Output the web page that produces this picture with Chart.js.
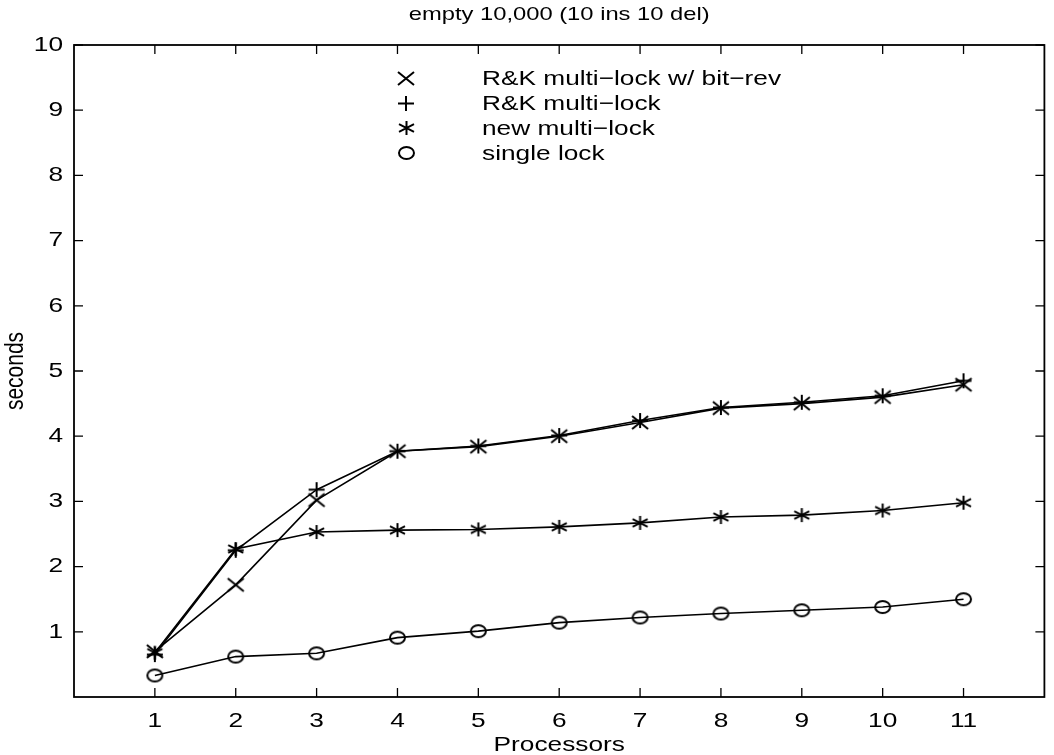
<!DOCTYPE html>
<html>
<head>
<meta charset="utf-8">
<script src="https://cdn.jsdelivr.net/npm/chart.js@4/dist/chart.umd.min.js"></script>
<style>
  html, body { margin: 0; padding: 0; background: #fff; }
  #wrap { width: 1054px; height: 755px; }
</style>
</head>
<body>
<div id="wrap"><canvas id="myChart" width="1054" height="755"></canvas></div>
<script>
// values
var processors = [1, 2, 3, 4, 5, 6, 7, 8, 9, 10, 11];
var rkBitRev   = [0.70, 1.72, 3.02, 3.77, 3.84, 4.00, 4.21, 4.43, 4.50, 4.60, 4.79];
var rkMulti    = [0.65, 2.25, 3.18, 3.77, 3.85, 4.01, 4.24, 4.44, 4.52, 4.62, 4.85];
var newMulti   = [0.68, 2.27, 2.53, 2.56, 2.57, 2.61, 2.67, 2.76, 2.79, 2.86, 2.98];
var singleLock = [0.33, 0.62, 0.67, 0.91, 1.01, 1.14, 1.22, 1.28, 1.33, 1.38, 1.50];
var xTicks = [1, 2, 3, 4, 5, 6, 7, 8, 9, 10, 11];
var yTicks = [1, 2, 3, 4, 5, 6, 7, 8, 9, 10];
var labels = ['R&K multi\u2212lock w/ bit\u2212rev', 'R&K multi\u2212lock', 'new multi\u2212lock', 'single lock'];
var titleText = 'empty 10,000 (10 ins 10 del)';

var FONT = '"Liberation Sans", Arial, Helvetica, sans-serif';
var FSIZE = 21;
var STRETCH = 1.25;   // the scan is wider than it is tall

// markers as little canvases, a bit wider than tall like the scan
function marker(kind, w, h) {
    var c = document.createElement('canvas');
    c.width = Math.ceil(w + 4); c.height = Math.ceil(h + 4);
    var g = c.getContext('2d');
    var mx = c.width / 2, my = c.height / 2, rx = w / 2, ry = h / 2;
    g.strokeStyle = '#000';
    g.lineWidth = 2;
    g.beginPath();
    if (kind == 'x') {
        g.moveTo(mx - rx, my - ry); g.lineTo(mx + rx, my + ry);
        g.moveTo(mx - rx, my + ry); g.lineTo(mx + rx, my - ry);
    } else if (kind == '+') {
        g.moveTo(mx - rx, my); g.lineTo(mx + rx, my);
        g.moveTo(mx, my - ry); g.lineTo(mx, my + ry);
    } else if (kind == '*') {
        g.moveTo(mx, my - ry); g.lineTo(mx, my + ry);
        g.moveTo(mx - rx, my - ry * 0.55); g.lineTo(mx + rx, my + ry * 0.55);
        g.moveTo(mx - rx, my + ry * 0.55); g.lineTo(mx + rx, my - ry * 0.55);
    } else {
        g.ellipse(mx, my, rx, ry, 0, 0, Math.PI * 2);
    }
    g.stroke();
    return c;
}
var markX = marker('x', 16, 13);
var markPlus = marker('+', 16, 15);
var markStar = marker('*', 15, 14);
var markO = marker('o', 15, 12);

function pts(arr) {
    return arr.map(function (v, i) { return { x: processors[i], y: v }; });
}

function series(label, arr, style) {
    return {
        label: label,
        data: pts(arr),
        borderColor: '#000',
        backgroundColor: 'rgba(0,0,0,0)',
        borderWidth: 1.6,
        pointStyle: style,
        pointRadius: 8,
        tension: 0
    };
}

function txt(c, s, x, y, align) {
    c.save();
    c.translate(x, y);
    c.scale(STRETCH, 1);
    c.textAlign = align || 'center';
    c.fillText(s, 0, 0);
    c.restore();
}

// frame, inward ticks on all sides, text and the legend inside the plot
var matlabFrame = {
    id: 'matlabFrame',
    afterDraw: function (chart) {
        var c = chart.ctx, a = chart.chartArea;
        var xs = chart.scales.x, ys = chart.scales.y;
        var t = 9;
        c.save();
        c.strokeStyle = '#000';
        c.lineWidth = 1.8;
        c.strokeRect(a.left, a.top, a.right - a.left, a.bottom - a.top);
        c.lineWidth = 1.3;
        c.beginPath();
        xs.ticks.forEach(function (tk) {
            var px = xs.getPixelForValue(tk.value);
            c.moveTo(px, a.bottom); c.lineTo(px, a.bottom - t);
            c.moveTo(px, a.top); c.lineTo(px, a.top + t);
        });
        ys.ticks.forEach(function (tk) {
            var py = ys.getPixelForValue(tk.value);
            c.moveTo(a.left, py); c.lineTo(a.left + t, py);
            c.moveTo(a.right, py); c.lineTo(a.right - t, py);
        });
        c.stroke();

        c.fillStyle = '#000';
        c.font = FSIZE + 'px ' + FONT;
        c.textBaseline = 'middle';
        xs.ticks.forEach(function (tk) {
            txt(c, String(tk.value), xs.getPixelForValue(tk.value), a.bottom + 24, 'center');
        });
        ys.ticks.forEach(function (tk) {
            txt(c, String(tk.value), a.left - 11, ys.getPixelForValue(tk.value), 'right');
        });
        txt(c, 'Processors', (a.left + a.right) / 2, a.bottom + 48, 'center');
        c.font = '19px ' + FONT;
        txt(c, titleText, (a.left + a.right) / 2, 15, 'center');
        c.font = FSIZE + 'px ' + FONT;

        c.save();
        c.translate(16, (a.top + a.bottom) / 2);
        c.rotate(-Math.PI / 2);
        c.scale(1, STRETCH);
        c.textAlign = 'center';
        c.fillText('seconds', 0, 0);
        c.restore();

        // legend
        chart.data.datasets.forEach(function (ds, i) {
            var y = 78 + i * 25;
            var m = ds.pointStyle;
            c.drawImage(m, Math.round(406 - m.width / 2), Math.round(y - m.height / 2));
            txt(c, ds.label, 482, y + 1, 'left');
        });
        c.restore();
    }
};

var ctx = document.getElementById('myChart').getContext('2d');
var chart = new Chart(ctx, {
    type: 'line',
    data: {
        datasets: [
            series(labels[0], rkBitRev, markX),
            series(labels[1], rkMulti, markPlus),
            series(labels[2], newMulti, markStar),
            series(labels[3], singleLock, markO)
        ]
    },
    options: {
        responsive: false,
        animation: false,
        layout: { padding: { left: 0, right: 8, top: 45, bottom: 0 } },
        plugins: {
            legend: { display: false },
            tooltip: { enabled: false },
            title: { display: false }
        },
        scales: {
            x: {
                type: 'linear',
                min: 0,
                max: 12,
                afterBuildTicks: function (s) {
                    s.ticks = xTicks.map(function (v) { return { value: v }; });
                },
                afterFit: function (s) { s.height = 58; },
                grid: { display: false },
                border: { display: false },
                ticks: { display: false }
            },
            y: {
                min: 0,
                max: 10,
                afterBuildTicks: function (s) {
                    s.ticks = yTicks.map(function (v) { return { value: v }; });
                },
                afterFit: function (s) { s.width = 74; },
                grid: { display: false },
                border: { display: false },
                ticks: { display: false }
            }
        }
    },
    plugins: [matlabFrame]
});
</script>
</body>
</html>
